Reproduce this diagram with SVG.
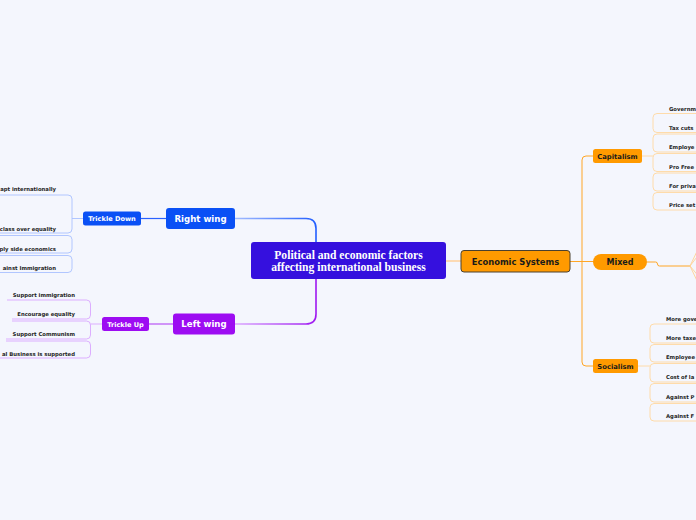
<svg xmlns="http://www.w3.org/2000/svg" width="696" height="520" viewBox="0 0 696 520">
<style>
.lbl{font-family:"DejaVu Sans","Verdana",sans-serif;font-weight:bold;fill:#fff;text-anchor:middle}
.olbl{font-family:"DejaVu Sans","Verdana",sans-serif;font-weight:bold;fill:#1a1a1a;text-anchor:middle}
.kid{font-family:"DejaVu Sans","Verdana",sans-serif;font-weight:bold;font-size:5.3px;fill:#1e1e1e}
.kidl{text-anchor:end}
.br-b{fill:none;stroke:#a9c1ff;stroke-width:0.9}
.br-p{fill:none;stroke:#d9a6ff;stroke-width:0.9}
.br-o{fill:none;stroke:#ffd8a0;stroke-width:0.9}
.c{fill:none}
.ct{font-family:"Liberation Serif","Times New Roman",serif;font-weight:bold;font-size:11.6px;fill:#fff;text-anchor:middle}
</style>
<defs>
<linearGradient id="gBlue" gradientUnits="userSpaceOnUse" x1="235" y1="0" x2="318" y2="0">
<stop offset="0" stop-color="#a3bcff"/><stop offset="1" stop-color="#1f5cff"/>
</linearGradient>
<linearGradient id="gPurp" gradientUnits="userSpaceOnUse" x1="235" y1="0" x2="318" y2="0">
<stop offset="0" stop-color="#dba8ff"/><stop offset="1" stop-color="#9d14f0"/>
</linearGradient>
</defs>
<rect width="696" height="520" fill="#f4f6fd"/>

<g id="connectors">
<path class="c" d="M235,218.5 H306 Q316,218.5 316,228.5 V242" stroke="url(#gBlue)" stroke-width="1.6"/>
<path class="c" d="M316,279 V314 Q316,324 306,324 H235" stroke="url(#gPurp)" stroke-width="1.6"/>
<path class="c" d="M141,218.5 H166" stroke="#2a62ff" stroke-width="1.2"/>
<path class="c" d="M149,324 H173" stroke="#b755f5" stroke-width="1.2"/>
<path class="c" d="M445,261 H461" stroke="#ffcf94" stroke-width="1.4"/>
<path class="c" d="M570,261.5 H594 M593,156 H586 Q582,156 582,160 V362 Q582,366 586,366 H593" stroke="#ffa626" stroke-width="1"/>
<path class="c" d="M647,262 H655.5 Q657.5,262 657.5,264 Q657.5,266 659.5,266 H690" stroke="#ffa626" stroke-width="1"/>
<path class="c" d="M690,266 L700,245 M690,266 L700,253 M690,266 L700,278 M690,266 L700,287" stroke="#ffd394" stroke-width="0.9"/>
<path class="br-b" d="M83,218.5 H72"/>
<path class="br-b" d="M0,195 H68 Q72,195 72,199 V229 Q72,233 68,233 H0"/>
<path class="br-b" d="M0,235.5 H68 Q72,235.5 72,239.5 V249 Q72,253 68,253 H0"/>
<path class="br-b" d="M0,255.5 H68 Q72,255.5 72,259.5 V268.5 Q72,272.5 68,272.5 H0"/>
<path class="br-p" d="M102,324 H90.5"/>
<path class="br-p" d="M7,300 H86.5 Q90.5,300 90.5,304 V315 Q90.5,319 86.5,319 H12"/>
<path class="br-p" d="M12,321 H86.5 Q90.5,321 90.5,325 V335 Q90.5,339 86.5,339 H6"/>
<path class="br-p" d="M6,341 H86.5 Q90.5,341 90.5,345 V354 Q90.5,358 86.5,358 H0"/>
<path class="br-o" d="M642,156 H653"/>
<path class="br-o" d="M700,113.5 H657 Q653,113.5 653,117.5 V128.5 Q653,132.5 657,132.5 H700"/>
<path class="br-o" d="M700,134 H657 Q653,134 653,138 V148 Q653,152 657,152 H700"/>
<path class="br-o" d="M700,153.5 H657 Q653,153.5 653,157.5 V167.5 Q653,171.5 657,171.5 H700"/>
<path class="br-o" d="M700,173 H657 Q653,173 653,177 V187 Q653,191 657,191 H700"/>
<path class="br-o" d="M700,192.5 H657 Q653,192.5 653,196.5 V206 Q653,210 657,210 H700"/>
<path class="br-o" d="M638,366 H650"/>
<path class="br-o" d="M700,324 H654 Q650,324 650,328 V339 Q650,343 654,343 H700"/>
<path class="br-o" d="M700,344.5 H654 Q650,344.5 650,348.5 V358 Q650,362 654,362 H700"/>
<path class="br-o" d="M700,363.5 H654 Q650,363.5 650,367.5 V378 Q650,382 654,382 H700"/>
<path class="br-o" d="M700,383.5 H654 Q650,383.5 650,387.5 V398 Q650,402 654,402 H700"/>
<path class="br-o" d="M700,403.5 H654 Q650,403.5 650,407.5 V417 Q650,421 654,421 H700"/>
</g>

<g id="central">
<rect x="251" y="242" width="195" height="37" rx="3" fill="#3510de"/>
<text class="ct" x="348.5" y="258.6">Political and economic factors<tspan x="348.5" dy="12">affecting international business</tspan></text>
</g>

<g id="right-wing">
<rect x="166" y="208" width="69" height="21" rx="3" fill="#0a50f5"/>
<text class="lbl" x="200.5" y="221.8" font-size="8.6">Right wing</text>
</g>
<g id="left-wing">
<rect x="173" y="313.5" width="62" height="21" rx="3" fill="#9d0cf2"/>
<text class="lbl" x="204" y="327.3" font-size="8.6">Left wing</text>
</g>
<g id="trickle-down">
<rect x="83" y="211.5" width="58" height="14" rx="2.5" fill="#0a50f5"/>
<text class="lbl" x="112" y="221" font-size="6.6">Trickle Down</text>
</g>
<g id="trickle-up">
<rect x="102" y="317" width="47" height="14" rx="2.5" fill="#9d0cf2"/>
<text class="lbl" x="125.5" y="326.5" font-size="6.6">Trickle Up</text>
</g>

<g id="td-kids">
<text class="kid kidl" x="56" y="191">apt internationally</text>
<text class="kid kidl" x="56" y="231">class over equality</text>
<text class="kid kidl" x="56" y="250.5">ply side economics</text>
<text class="kid kidl" x="56" y="270">ainst Immigration</text>
</g>
<g id="tu-kids">
<text class="kid kidl" x="75" y="297">Support immigration</text>
<text class="kid kidl" x="75" y="316">Encourage equality</text>
<text class="kid kidl" x="75" y="336">Support Communism</text>
<text class="kid kidl" x="75" y="355.5">al Business is supported</text>
</g>

<g id="economic-systems">
<rect x="461" y="250.5" width="109" height="21.5" rx="3" fill="#ff9a00" stroke="#4a4030" stroke-width="1"/>
<text class="olbl" x="515.5" y="264.5" font-size="8.4">Economic Systems</text>
</g>
<g id="capitalism">
<rect x="593" y="149" width="49" height="14" rx="2.5" fill="#ff9a00"/>
<text class="olbl" x="617.5" y="158.6" font-size="6.8">Capitalism</text>
</g>
<g id="mixed">
<rect x="593" y="254" width="54" height="16" rx="8" fill="#ff9a00"/>
<text class="olbl" x="620" y="265" font-size="8">Mixed</text>
</g>
<g id="socialism">
<rect x="593" y="359" width="45" height="14" rx="2.5" fill="#ff9a00"/>
<text class="olbl" x="615.5" y="368.6" font-size="6.8">Socialism</text>
</g>

<g id="cap-kids">
<text class="kid" x="669" y="110.5">Governm</text>
<text class="kid" x="669" y="129.5">Tax cuts</text>
<text class="kid" x="669" y="149">Employe</text>
<text class="kid" x="669" y="168.5">Pro Free</text>
<text class="kid" x="669" y="188">For priva</text>
<text class="kid" x="669" y="207">Price set</text>
</g>
<g id="soc-kids">
<text class="kid" x="666" y="321">More gove</text>
<text class="kid" x="666" y="340">More taxe</text>
<text class="kid" x="666" y="359">Employee</text>
<text class="kid" x="666" y="379">Cost of la</text>
<text class="kid" x="666" y="399">Against P</text>
<text class="kid" x="666" y="418">Against F</text>
</g>
</svg>
